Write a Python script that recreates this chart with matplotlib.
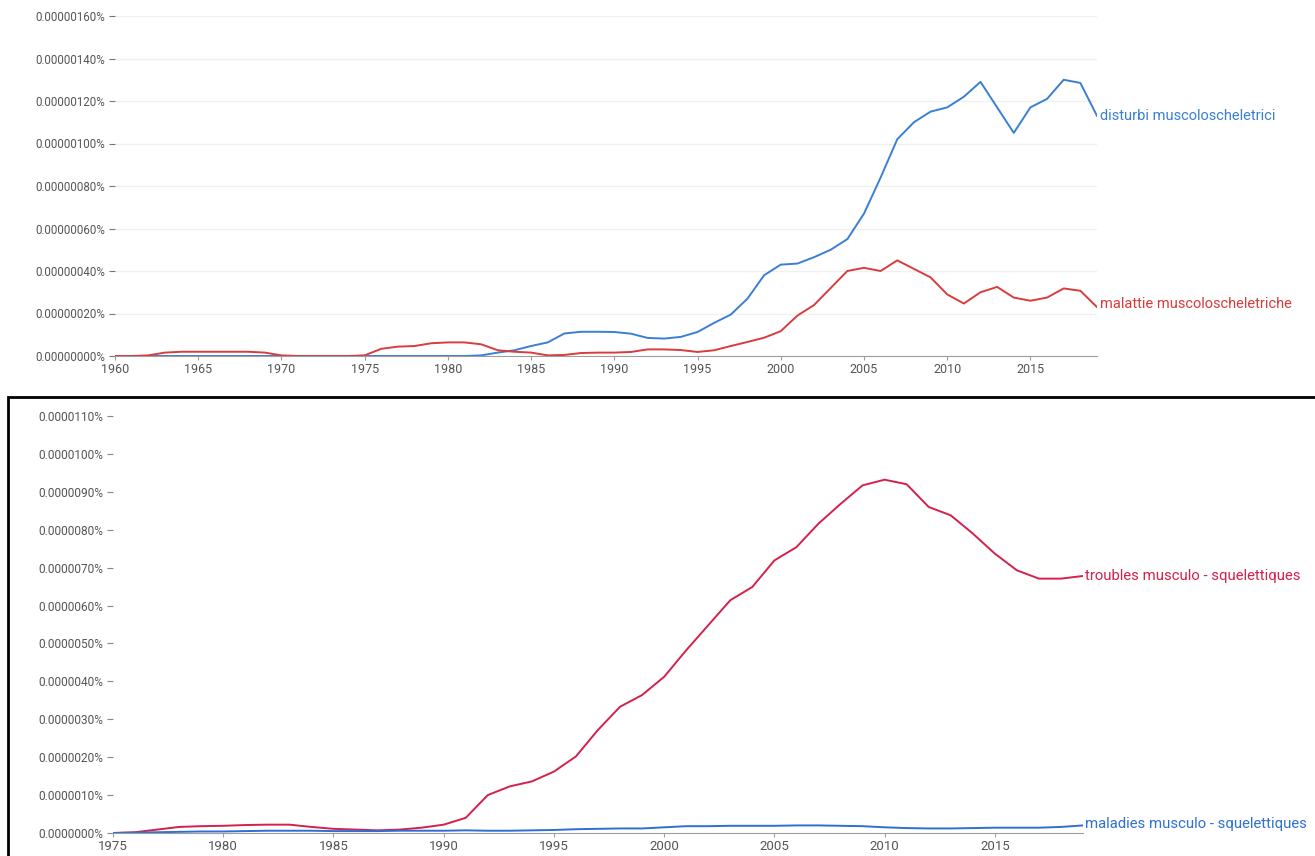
import numpy as np
import matplotlib
matplotlib.use("Agg")
import matplotlib.pyplot as plt
from matplotlib.patches import Rectangle
from matplotlib.ticker import FuncFormatter

plt.rcParams['font.family'] = ['Roboto', 'DejaVu Sans']

# top chart (italian), values in units of 0.00000001 %
years_it = list(range(1960, 2020))
disturbi = [0]*22 + [0.3, 1.6, 2.7, 4.7, 6.4, 10.6, 11.4, 11.4, 11.3, 10.5,
                     8.5, 8.2, 9, 11.3, 15.6, 19.5, 27, 38, 43, 43.5,
                     46.5, 50, 55, 67, 84, 102, 110, 115, 117, 122,
                     129, 117, 105, 117, 121, 130, 128.5, 113]
malattie = [0, 0, 0.3, 1.6, 2, 2, 2, 2, 2, 1.6,
            0.3, 0, 0, 0, 0, 0.3, 3.4, 4.4, 4.7, 6,
            6.4, 6.4, 5.5, 2.7, 2, 1.6, 0.3, 0.5, 1.4, 1.6,
            1.6, 1.9, 3.1, 3.1, 2.8, 1.9, 2.7, 4.7, 6.6, 8.6,
            11.7, 19, 24, 32, 40, 41.5, 40, 45, 41, 37,
            29, 24.7, 30, 32.5, 27.5, 26, 27.5, 31.8, 30.7, 23]
labels_it = ["disturbi muscoloscheletrici", "malattie muscoloscheletriche"]

# bottom chart (french), values in units of 0.000001 %
years_fr = list(range(1975, 2020))
troubles = [0, 0.02, 0.09, 0.16, 0.18, 0.19, 0.21, 0.22, 0.22, 0.16,
            0.11, 0.09, 0.07, 0.09, 0.14, 0.22, 0.4, 1.0, 1.23, 1.36,
            1.62, 2.02, 2.72, 3.33, 3.64, 4.12, 4.82, 5.48, 6.14, 6.49,
            7.19, 7.54, 8.16, 8.68, 9.17, 9.32, 9.2, 8.6, 8.38, 7.9,
            7.37, 6.93, 6.71, 6.71, 6.78]
maladies = [0, 0.01, 0.02, 0.03, 0.04, 0.04, 0.05, 0.06, 0.06, 0.06,
            0.05, 0.05, 0.05, 0.06, 0.06, 0.06, 0.07, 0.06, 0.06, 0.07,
            0.08, 0.1, 0.11, 0.12, 0.12, 0.15, 0.18, 0.18, 0.19, 0.19,
            0.19, 0.2, 0.2, 0.19, 0.18, 0.15, 0.13, 0.12, 0.12, 0.13,
            0.14, 0.14, 0.14, 0.16, 0.2]
labels_fr = ["troubles musculo - squelettiques", "maladies musculo - squelettiques"]

fig = plt.figure(figsize=(13.15, 8.56), dpi=100)

def style(ax, tickcolor):
    for s in ['top', 'right', 'left']:
        ax.spines[s].set_visible(False)
    ax.spines['bottom'].set_color('#9e9e9e')
    ax.tick_params(axis='y', length=4, color=tickcolor, pad=3, labelcolor='#555555')
    ax.tick_params(axis='x', length=3, color='#9e9e9e', labelcolor='#555555', pad=2)

# top chart
ax1 = fig.add_axes([115/1315, 1-356/856, (1097-115)/1315, (356-16)/856])
ax1.plot(years_it, disturbi, color='#3a7fd5', lw=1.4, solid_joinstyle='round')
ax1.plot(years_it, malattie, color='#d83c3c', lw=1.4, solid_joinstyle='round')
ax1.set_xlim(1960, 2019)
ax1.set_ylim(0, 160)
ax1.set_yticks(np.arange(0, 161, 20))
ax1.set_xticks(range(1960, 2016, 5))
ax1.yaxis.set_major_formatter(FuncFormatter(lambda v, p: f"{v*1e-8:.8f}%"))
ax1.grid(axis='y', color='#f0f0f0', lw=1)
ax1.set_axisbelow(True)
style(ax1, '#777777')
ax1.tick_params(axis='y', labelsize=8.3)
ax1.tick_params(axis='x', labelsize=9)
ax1.text(2019.2, disturbi[-1], labels_it[0], color='#3a7fd5', fontsize=10.5, va='center', ha='left')
ax1.text(2019.2, malattie[-1] + 1.5, labels_it[1], color='#d83c3c', fontsize=10.5, va='center', ha='left')

# black frame around bottom screenshot
fig.patches.append(Rectangle((8/1315, -0.01), 1.02, 1-397/856 + 0.01, transform=fig.transFigure,
                             fill=False, edgecolor='black', lw=2))

# bottom chart
ax2 = fig.add_axes([113/1315, 1-833/856, (1083-113)/1315, (833-416)/856])
ax2.plot(years_fr, troubles, color='#d4204c', lw=1.4, solid_joinstyle='round')
ax2.plot(years_fr, maladies, color='#2f6fd3', lw=1.4, solid_joinstyle='round')
ax2.set_xlim(1975, 2019)
ax2.set_ylim(0, 11)
ax2.set_yticks(np.arange(0, 12, 1))
ax2.set_xticks(range(1975, 2016, 5))
ax2.yaxis.set_major_formatter(FuncFormatter(lambda v, p: f"{v*1e-6:.7f}%"))
style(ax2, '#888888')
ax2.tick_params(axis='y', labelsize=8.6)
ax2.tick_params(axis='x', labelsize=9.5)
ax2.text(2019.1, troubles[-1], labels_fr[0], color='#d4204c', fontsize=10.7, va='center', ha='left', clip_on=False)
ax2.text(2019.1, maladies[-1] + 0.05, labels_fr[1], color='#2f6fd3', fontsize=10.7, va='center', ha='left', clip_on=False)

plt.savefig('out.png', dpi=100)
